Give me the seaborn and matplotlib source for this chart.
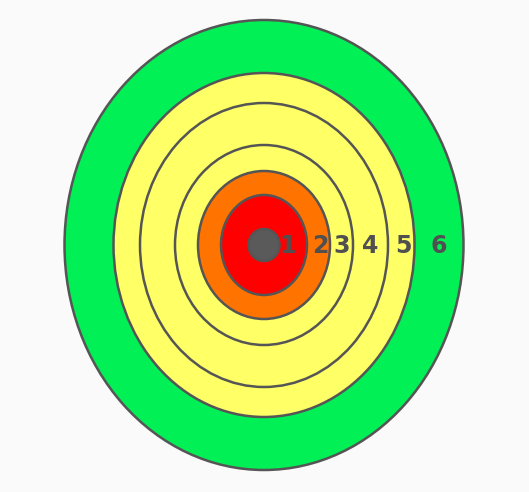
import matplotlib
matplotlib.use("Agg")
import matplotlib.pyplot as plt
from matplotlib.patches import Ellipse
import seaborn as sns

# rings from outside in (pixel units of the original picture)
ring_labels = ["6", "5", "4", "3", "2", "1", ""]
semi_x = [199.5, 150.5, 124, 89, 66, 43, 15.5]
semi_y = [225, 172, 142, 100, 74, 50, 16]
ring_colors = ["#00f055", "#ffff66", "#ffff66", "#ffff66", "#ff7300", "#ff0000", "#5a5a5a"]
label_x = [439, 403, 370, 342, 320, 288]

center = (264, 245)

sns.set_theme(style="white")
plt.rcParams['font.family'] = ['Verdana', 'DejaVu Sans']

fig = plt.figure(figsize=(5.29, 4.92), dpi=100)
fig.patch.set_facecolor("#fafafa")
ax = fig.add_axes([0, 0, 1, 1])
ax.set_facecolor("#fafafa")

for sx, sy, c in zip(semi_x, semi_y, ring_colors):
    e = Ellipse(center, 2 * sx, 2 * sy, facecolor=c, edgecolor="#555555", linewidth=1.8)
    ax.add_patch(e)

for lab, lx in zip(ring_labels, label_x):
    ax.text(lx, center[1] + 1, lab, ha="center", va="center", fontsize=17,
            color="#505050", fontweight="bold")

ax.set_xlim(0, 529)
ax.set_ylim(492, 0)
ax.set_aspect("equal")
ax.axis("off")

fig.savefig("out.png", dpi=100, facecolor=fig.get_facecolor())
